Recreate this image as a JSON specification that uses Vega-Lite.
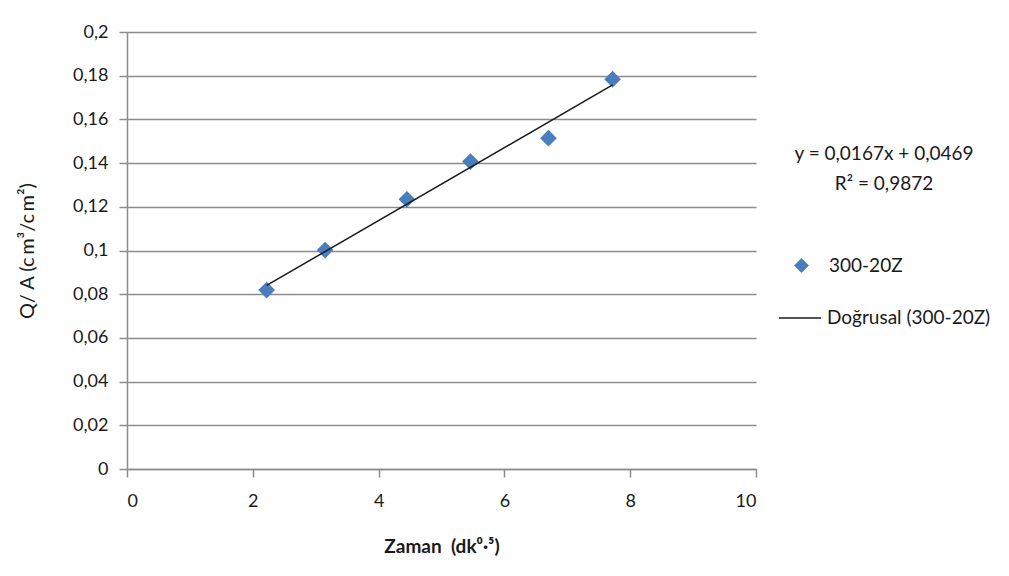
{
  "$schema": "https://vega.github.io/schema/vega-lite/v6.json",
  "width": 629,
  "height": 437,
  "autosize": "none",
  "padding": {"left": 127, "top": 32, "right": 253, "bottom": 107},
  "background": "white",
  "config": {
    "locale": {"number": {"decimal": ",", "thousands": ".", "grouping": [3], "currency": ["", " TL"]}},
    "font": "Lato",
    "view": {"stroke": null},
    "axis": {
      "labelFont": "Lato",
      "labelFontSize": 18,
      "labelColor": "#1a1a1a",
      "titleFont": "Lato",
      "titleFontSize": 20,
      "titleFontWeight": "normal",
      "titleColor": "#1a1a1a",
      "domainColor": "#8c8c8c",
      "domainWidth": 1.5,
      "tickColor": "#8c8c8c",
      "tickWidth": 1.5,
      "tickSize": 8,
      "gridColor": "#8c8c8c",
      "gridWidth": 1.5
    },
    "legend": {
      "titleFont": "Lato",
      "titleFontSize": 19,
      "titleFontWeight": "normal",
      "titleColor": "#1a1a1a",
      "labelFont": "Lato",
      "labelFontSize": 19,
      "labelColor": "#1a1a1a",
      "labelLimit": 300
    }
  },
  "layer": [
    {
      "data": {
        "values": [
          {"t": 2.22, "qa": 0.0819, "series": "300-20Z"},
          {"t": 3.15, "qa": 0.1002, "series": "300-20Z"},
          {"t": 4.45, "qa": 0.1234, "series": "300-20Z"},
          {"t": 5.46, "qa": 0.1407, "series": "300-20Z"},
          {"t": 6.70, "qa": 0.1514, "series": "300-20Z"},
          {"t": 7.72, "qa": 0.1784, "series": "300-20Z"}
        ]
      },
      "mark": {"type": "point", "filled": true, "shape": "diamond", "size": 280, "opacity": 1},
      "encoding": {
        "x": {
          "field": "t",
          "type": "quantitative",
          "scale": {"domain": [0, 10], "nice": false},
          "axis": {
            "title": "Zaman\u00a0 (dk⁰·⁵)",
            "titleFontWeight": "bold",
            "titleFontSize": 19,
            "values": [0, 2, 4, 6, 8, 10],
            "format": "d",
            "grid": false,
            "labelPadding": 15,
            "titlePadding": 27
          }
        },
        "y": {
          "field": "qa",
          "type": "quantitative",
          "scale": {"domain": [0, 0.2], "nice": false},
          "axis": {
            "title": "Q/ A (c\u2009m³/c\u2009m²)",
            "values": [0, 0.02, 0.04, 0.06, 0.08, 0.1, 0.12, 0.14, 0.16, 0.18, 0.2],
            "format": ".2~f",
            "grid": true,
            "labelPadding": 11,
            "titlePadding": 35
          }
        },
        "color": {
          "field": "series",
          "type": "nominal",
          "scale": {"domain": ["300-20Z"], "range": ["#4a7ebb"]},
          "legend": {
            "orient": "none",
            "legendX": 665,
            "legendY": 224,
            "title": null,
            "labelOffset": 18,
            "symbolSize": 220,
            "symbolType": "diamond"
          }
        }
      }
    },
    {
      "data": {
        "values": [
          {"t": 2.22, "fit": 0.0840, "fitName": "Doğrusal (300-20Z)"},
          {"t": 7.72, "fit": 0.1758, "fitName": "Doğrusal (300-20Z)"}
        ]
      },
      "mark": {"type": "line", "strokeWidth": 1.5},
      "encoding": {
        "x": {"field": "t", "type": "quantitative"},
        "y": {"field": "fit", "type": "quantitative"},
        "stroke": {
          "field": "fitName",
          "type": "nominal",
          "scale": {"domain": ["Doğrusal (300-20Z)"], "range": ["#1a1a1a"]},
          "legend": {
            "orient": "none",
            "legendX": 651,
            "legendY": 113,
            "title": ["y = 0,0167x + 0,0469", "R² = 0,9872"],
            "titleLineHeight": 30,
            "titleAlign": "center",
            "titleAnchor": "middle",
            "titlePadding": 102,
            "labelOffset": 5,
            "symbolSize": 1764,
            "symbolStrokeWidth": 1.5,
            "symbolType": "stroke"
          }
        }
      }
    }
  ]
}
